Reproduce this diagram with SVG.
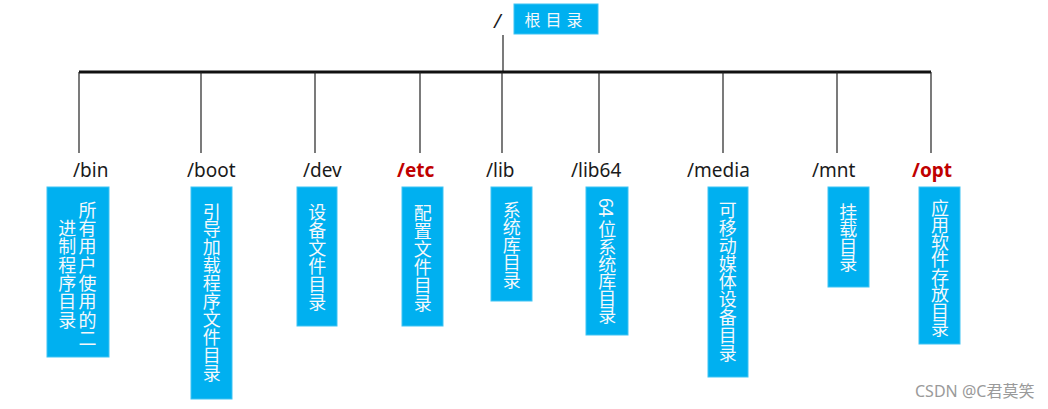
<svg xmlns="http://www.w3.org/2000/svg" width="1048" height="409" viewBox="0 0 1048 409">
<style>
.lbl{font-family:"Noto Sans","Open Sans",sans-serif;font-size:19px;fill:#1a1a1a}
.red{fill:#C00000;font-weight:bold}
.box{fill:#00B0F0;stroke:#3fc3f3;stroke-width:1}
.vt{font-family:"Noto Sans CJK SC","Noto Sans",sans-serif;font-size:18px;fill:#f4f8fb;writing-mode:vertical-rl}
.ln{stroke:#222;stroke-width:1.2;fill:none}
</style>
<rect width="1048" height="409" fill="#fff"/>
<g id="connectors">
<line class="ln" x1="503" y1="35" x2="503" y2="72"/>
<line x1="79" y1="72" x2="931" y2="72" stroke="#111" stroke-width="3"/>
<line class="ln" x1="79" y1="72" x2="79" y2="153"/>
<line class="ln" x1="201" y1="72" x2="201" y2="153"/>
<line class="ln" x1="315" y1="72" x2="315" y2="153"/>
<line class="ln" x1="420" y1="72" x2="420" y2="153"/>
<line class="ln" x1="502" y1="72" x2="502" y2="153"/>
<line class="ln" x1="599" y1="72" x2="599" y2="153"/>
<line class="ln" x1="723" y1="72" x2="723" y2="153"/>
<line class="ln" x1="837" y1="72" x2="837" y2="153"/>
<line class="ln" x1="931" y1="72" x2="931" y2="153"/>
</g>
<g id="root">
<text x="494" y="28" class="lbl" style="font-style:italic">/</text>
<rect class="box" x="514" y="4" width="84" height="30"/>
<text x="556" y="26" text-anchor="middle" style="font-family:'Noto Sans CJK SC',sans-serif;font-size:16px;fill:#f4f8fb;letter-spacing:5px">根目录</text>
</g>
<g id="bin">
<text x="73" y="177" class="lbl">/bin</text>
<rect class="box" x="47" y="187" width="62" height="170"/>
<text x="87.5" y="201" class="vt" style="letter-spacing:0.3px">所有用户使用的二</text>
<text x="67.3" y="219.3" class="vt" style="letter-spacing:0.3px">进制程序目录</text>
</g>
<g id="boot">
<text x="187" y="177" class="lbl">/boot</text>
<rect class="box" x="191" y="187" width="41" height="212"/>
<text x="211.7" y="202.7" class="vt" style="letter-spacing:-0.1px">引导加载程序文件目录</text>
</g>
<g id="dev">
<text x="303" y="177" class="lbl">/dev</text>
<rect class="box" x="297" y="187" width="40" height="139"/>
<text x="317.3" y="202.7" class="vt">设备文件目录</text>
</g>
<g id="etc">
<text x="397" y="177" class="lbl red">/etc</text>
<rect class="box" x="402" y="187" width="41" height="139"/>
<text x="422.7" y="203.7" class="vt">配置文件目录</text>
</g>
<g id="lib">
<text x="486" y="177" class="lbl">/lib</text>
<rect class="box" x="491" y="187" width="41" height="114"/>
<text x="511.7" y="201" class="vt" style="letter-spacing:-0.5px">系统库目录</text>
</g>
<g id="lib64">
<text x="571" y="177" class="lbl">/lib64</text>
<rect class="box" x="586" y="187" width="42" height="148"/>
<text x="607.3" y="198" class="vt" style="letter-spacing:-0.8px">64<tspan y="221">位系统库目录</tspan></text>
</g>
<g id="media">
<text x="687" y="177" class="lbl">/media</text>
<rect class="box" x="708" y="187" width="40" height="190"/>
<text x="727.7" y="201" class="vt" style="letter-spacing:-0.1px">可移动媒体设备目录</text>
</g>
<g id="mnt">
<text x="812" y="177" class="lbl">/mnt</text>
<rect class="box" x="828" y="187" width="41" height="100"/>
<text x="848.3" y="202.7" class="vt" style="letter-spacing:-0.8px">挂载目录</text>
</g>
<g id="opt">
<text x="912" y="177" class="lbl red">/opt</text>
<rect class="box" x="919" y="187" width="41" height="157"/>
<text x="940" y="199.3" class="vt" style="letter-spacing:-0.9px">应用软件存放目录</text>
</g>
<text x="915" y="397" style="font-family:'Noto Sans','Noto Sans CJK SC',sans-serif;font-size:16px;fill:#9a9a9a">CSDN @C君莫笑</text>
</svg>
